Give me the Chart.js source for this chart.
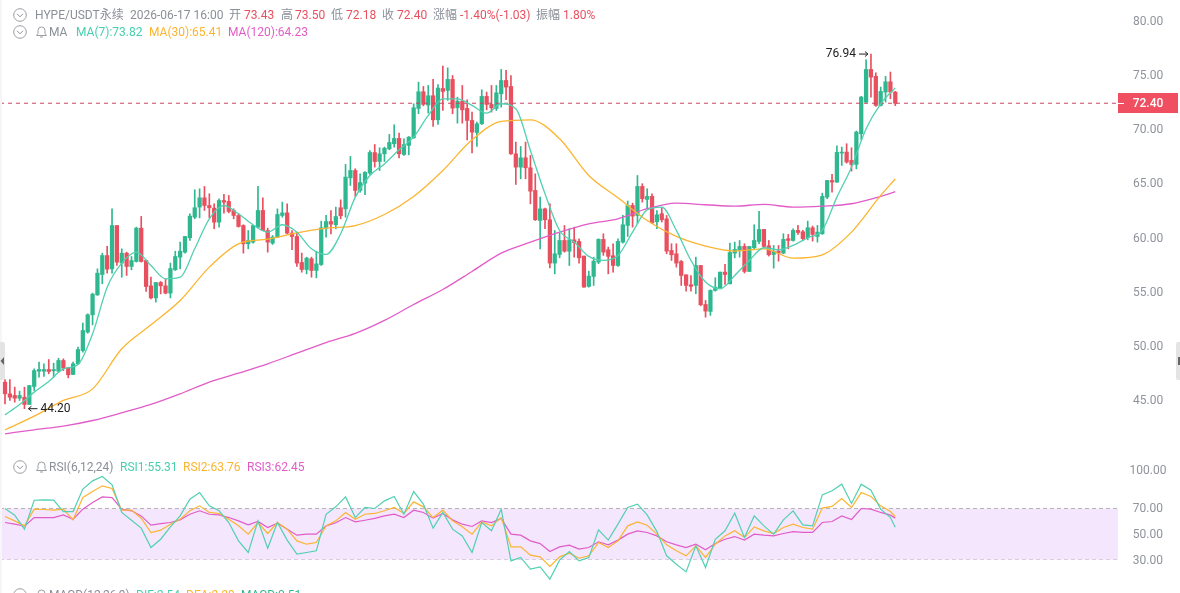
<!DOCTYPE html>
<html>
<head>
<meta charset="utf-8">
<title>HYPE/USDT</title>
<script src="https://cdn.jsdelivr.net/npm/chart.js@4"></script>
<style>
    html, body { margin: 0; padding: 0; background: #fff; }
    #page { position: relative; width: 1180px; height: 593px; overflow: hidden; font-family: Roboto, "Noto Sans CJK SC", sans-serif; font-size: 12px; }
    #page canvas { position: absolute; left: 0; }
    .row { position: absolute; height: 14px; line-height: 14px; white-space: nowrap; }
    .row span { position: absolute; top: 0; }
    .gray { color: #8b8f98; }
    .red { color: #e8505f; }
    .teal { color: #47cfae; }
    .orange { color: #fbb530; }
    .pink { color: #e25cc8; }
    .green { color: #2fb88f; }
    .icon { position: absolute; }
    .handle { position: absolute; top: 342px; width: 5px; height: 38px; background: #e4e4e4; }
    #edge { position: absolute; left: 0; top: 0; width: 2px; height: 593px; background: #f6f6f6; }
</style>
</head>
<body>
<div id="page">
    <canvas id="priceChart" width="1180" height="440" style="top:0"></canvas>
    <canvas id="rsiChart" width="1180" height="148" style="top:445px"></canvas>
    <div id="edge"></div>

    <svg class="icon" style="left:13px;top:8px" width="14" height="14"><circle cx="7" cy="7" r="6.3" fill="#fff" stroke="#9a9da3"/><path d="M4 5.8 L7 8.8 L10 5.8" fill="none" stroke="#8b8f98"/></svg>
    <svg class="icon" style="left:13px;top:25px" width="14" height="14"><circle cx="7" cy="7" r="6.3" fill="#fff" stroke="#9a9da3"/><path d="M4 5.8 L7 8.8 L10 5.8" fill="none" stroke="#8b8f98"/></svg>
    <svg class="icon" style="left:35px;top:25px" width="13" height="14"><path d="M1.5 10.5 H11.5 L10 8.5 V5.5 A3.5 3.5 0 0 0 3 5.5 V8.5 Z M5 12 H8" fill="none" stroke="#9a9da3"/></svg>
    <svg class="icon" style="left:13px;top:460px" width="14" height="14"><circle cx="7" cy="7" r="6.3" fill="#fff" stroke="#9a9da3"/><path d="M4 5.8 L7 8.8 L10 5.8" fill="none" stroke="#8b8f98"/></svg>
    <svg class="icon" style="left:35px;top:460px" width="13" height="14"><path d="M1.5 10.5 H11.5 L10 8.5 V5.5 A3.5 3.5 0 0 0 3 5.5 V8.5 Z M5 12 H8" fill="none" stroke="#9a9da3"/></svg>
    <svg class="icon" style="left:13px;top:588px" width="14" height="14"><circle cx="7" cy="7" r="6.3" fill="#fff" stroke="#9a9da3"/><path d="M4 5.8 L7 8.8 L10 5.8" fill="none" stroke="#8b8f98"/></svg>
    <svg class="icon" style="left:35px;top:588px" width="13" height="14"><path d="M1.5 10.5 H11.5 L10 8.5 V5.5 A3.5 3.5 0 0 0 3 5.5 V8.5 Z M5 12 H8" fill="none" stroke="#9a9da3"/></svg>

    <div class="row" style="top:8px;left:0;width:700px">
        <span class="gray" style="left:35px">HYPE/USDT永续</span>
        <span class="gray" style="left:130px">2026-06-17 16:00</span>
        <span class="gray" style="left:229px">开</span><span class="red" style="left:244px">73.43</span>
        <span class="gray" style="left:281px">高</span><span class="red" style="left:295px">73.50</span>
        <span class="gray" style="left:331px">低</span><span class="red" style="left:346px">72.18</span>
        <span class="gray" style="left:382px">收</span><span class="red" style="left:397px">72.40</span>
        <span class="gray" style="left:433px">涨幅</span><span class="red" style="left:460px">-1.40%(-1.03)</span>
        <span class="gray" style="left:536px">振幅</span><span class="red" style="left:563px">1.80%</span>
    </div>
    <div class="row" style="top:25px;left:0;width:400px">
        <span class="gray" style="left:49px">MA</span>
        <span class="teal" style="left:76px">MA(7):73.82</span>
        <span class="orange" style="left:149px">MA(30):65.41</span>
        <span class="pink" style="left:228px">MA(120):64.23</span>
    </div>
    <div class="row" style="top:460px;left:0;width:400px">
        <span class="gray" style="left:49px">RSI(6,12,24)</span>
        <span class="teal" style="left:120px">RSI1:55.31</span>
        <span class="orange" style="left:183px">RSI2:63.76</span>
        <span class="pink" style="left:247px">RSI3:62.45</span>
    </div>
    <div class="row" style="top:588px;left:0;width:400px">
        <span class="gray" style="left:49px">MACD(12,26,9)</span>
        <span class="teal" style="left:136px">DIF:2.54</span>
        <span class="orange" style="left:186px">DEA:2.28</span>
        <span class="green" style="left:241px">MACD:0.51</span>
    </div>

    <div class="handle" style="left:0;border-radius:0 2px 2px 0"></div>
    <svg class="icon" style="left:0;top:356px" width="5" height="10"><path d="M4 1 V9 L0.5 5 Z" fill="#666"/></svg>
    <div class="handle" style="left:1176px;width:4px;border-radius:2px 0 0 2px"></div>
    <svg class="icon" style="left:1176px;top:356px" width="4" height="10"><path d="M2 1 V9 L4 9 L4 1 Z" fill="#666"/></svg>
</div>

<script>
// 1h candles, oldest first
const opens = [46.65,45.57,45.42,45.17,45.26,44.59,46.25,47.66,47.66,47.82,47.70,47.66,48.65,47.97,47.36,48.34,49.57,51.27,52.87,54.71,56.59,58.34,57.11,61.11,57.64,58.56,57.33,57.79,60.87,57.88,55.54,54.43,55.85,55.54,54.87,57.02,58.19,58.65,59.98,61.88,62.81,63.67,62.96,62.72,61.42,63.42,63.33,62.50,62.04,61.11,59.42,59.58,60.96,62.50,60.65,59.48,60.04,62.04,62.28,60.41,60.10,57.70,57.05,58.04,56.96,57.51,60.87,61.48,61.18,62.75,62.65,65.51,66.19,64.35,65.02,65.95,67.85,67.02,67.73,68.19,68.66,69.15,67.67,68.50,69.21,71.92,73.46,72.23,73.09,70.87,73.76,73.58,74.60,71.98,72.59,71.92,70.81,69.70,70.50,73.03,72.29,71.92,73.27,74.50,73.95,67.73,66.50,67.36,66.44,64.35,61.58,62.65,61.64,57.64,58.44,59.73,58.74,59.79,59.64,58.29,55.49,56.41,57.73,59.83,58.87,58.32,57.42,59.58,61.12,62.96,62.04,64.72,63.52,63.80,61.46,62.20,61.73,58.81,58.50,57.79,56.56,55.64,55.58,57.42,53.82,53.18,55.12,55.36,56.81,55.73,58.56,58.81,59.18,56.87,59.06,59.64,60.75,59.24,58.44,58.75,58.56,59.89,59.73,60.66,60.53,59.98,60.90,60.10,60.35,63.73,65.27,65.12,67.80,67.89,67.12,66.75,69.58,72.51,75.52,74.88,72.20,73.43,74.38,73.43];
const highs = [46.89,46.89,46.19,45.82,46.19,46.34,47.88,48.50,48.34,48.74,48.40,48.86,48.80,48.03,48.50,49.88,52.10,52.96,54.87,57.11,58.56,59.18,62.65,61.11,58.96,58.65,58.25,60.96,61.95,57.94,56.34,55.85,55.94,56.19,57.64,58.74,59.58,60.10,62.19,64.41,64.50,64.72,64.04,63.12,63.58,63.98,63.88,62.65,62.19,61.18,60.65,61.11,64.72,63.67,60.87,60.19,62.65,63.27,63.11,60.65,60.50,58.56,58.19,58.19,58.74,61.51,62.04,62.50,62.81,63.48,66.75,67.49,66.35,65.88,66.10,68.04,68.59,68.29,68.35,69.52,70.41,69.64,69.12,69.33,72.35,74.35,73.95,74.04,74.60,74.13,75.83,75.67,74.96,72.96,74.04,72.72,71.58,70.66,73.64,73.43,74.04,74.04,75.52,75.43,74.96,68.81,68.41,68.81,67.58,65.88,63.73,62.71,63.11,60.65,60.41,61.11,60.81,60.96,59.88,58.29,56.90,58.19,59.89,60.35,59.12,59.43,59.89,62.04,63.37,63.18,65.73,64.97,64.50,64.04,62.50,62.75,62.04,59.43,59.43,57.89,56.56,56.50,58.19,57.42,54.19,55.18,56.29,56.81,57.52,59.49,59.58,59.73,59.43,59.18,61.18,62.41,60.75,59.73,59.27,59.27,60.35,60.29,60.81,61.12,60.66,61.52,61.06,61.12,64.10,65.27,65.83,68.47,68.35,68.66,68.29,69.83,73.03,76.41,76.94,75.21,73.89,74.88,75.28,73.50];
const lows = [44.65,44.96,44.80,44.96,44.20,44.59,45.88,47.11,47.17,47.42,47.11,47.57,47.72,47.05,47.33,48.28,49.42,51.17,51.94,54.65,55.73,56.71,56.71,57.42,56.34,56.50,57.02,57.73,57.73,55.02,54.34,54.04,54.80,54.80,54.43,56.96,57.11,58.56,59.73,61.73,61.82,62.50,61.82,60.81,60.96,62.25,62.28,61.73,60.96,58.56,58.96,59.48,60.90,60.65,58.65,59.36,59.98,61.88,60.34,58.87,57.33,56.80,56.65,56.34,56.28,57.42,60.04,60.34,60.81,61.73,61.88,64.81,63.79,64.19,63.95,65.82,66.50,66.19,67.02,68.10,68.35,67.36,67.58,67.64,69.15,71.43,72.16,71.49,70.26,70.44,71.73,72.66,71.43,70.56,70.56,69.02,67.82,68.41,70.44,71.79,71.58,71.73,72.04,72.72,67.67,64.90,65.42,65.42,63.11,61.58,58.96,60.81,57.20,56.65,58.13,58.65,57.42,58.19,57.64,55.42,55.42,55.58,57.58,58.35,56.65,56.81,57.33,59.49,60.10,60.96,61.27,63.27,62.66,61.27,60.81,61.43,58.50,57.89,57.27,55.58,55.05,55.05,54.81,53.70,52.65,52.81,55.05,55.36,55.67,55.73,58.13,58.19,56.72,56.87,58.96,59.43,59.06,58.29,57.18,57.82,58.50,58.96,59.67,60.29,59.73,59.79,59.67,59.58,60.29,63.58,64.20,65.09,66.66,66.87,66.13,66.35,69.03,72.41,72.97,72.11,72.14,72.51,72.81,72.18];
const closes = [45.57,45.26,45.17,45.42,44.59,46.34,47.72,47.82,47.82,47.63,47.82,48.65,47.94,47.33,48.34,49.66,51.42,52.87,54.77,56.71,58.34,57.08,61.11,57.73,58.56,57.33,57.88,60.87,57.79,55.48,54.43,55.85,55.54,54.87,57.14,58.25,58.74,60.10,61.98,62.75,63.67,62.96,62.75,61.42,63.42,63.27,62.41,62.04,61.02,59.42,59.73,61.11,62.50,60.65,59.58,60.04,62.13,62.28,60.41,60.10,57.64,57.05,58.10,56.96,57.57,60.90,61.48,61.24,61.94,62.01,65.58,66.19,64.35,65.08,66.01,67.85,67.02,67.73,68.25,68.78,69.15,67.73,68.59,69.27,71.98,73.46,72.29,73.09,70.87,73.80,73.49,74.60,71.95,72.59,71.79,70.81,69.73,70.50,73.03,72.29,71.98,73.36,74.50,73.89,67.73,66.50,67.36,66.44,64.28,61.64,62.65,61.64,57.64,58.50,59.73,58.74,59.79,59.54,58.13,55.42,56.44,57.82,59.83,58.66,58.26,57.42,59.64,61.18,62.96,61.98,64.72,63.58,63.80,61.36,62.10,61.64,58.75,58.41,57.64,56.50,55.58,55.49,57.42,53.79,53.21,55.12,55.42,56.81,56.59,58.62,58.90,59.18,56.87,59.18,59.73,60.75,59.18,58.41,58.72,58.56,59.83,59.73,60.66,60.47,59.89,60.90,60.29,60.50,63.80,65.27,65.12,67.86,67.89,66.97,66.75,69.74,72.97,75.52,74.81,72.20,73.49,74.38,73.43,72.40];

// moving averages, one reading every 3 candles (MA7) or 6 candles (MA30, MA120), last one at the final candle
const ma7 = [43.63,44.59,45.73,46.71,47.88,48.28,51.11,55.42,57.64,58.65,57.42,56.19,56.34,58.96,61.73,62.96,62.19,61.18,60.50,61.18,60.50,58.96,58.44,60.35,63.73,65.73,66.80,68.10,69.27,71.27,72.81,72.81,72.20,71.49,72.35,71.89,68.04,64.04,60.65,59.58,58.26,57.89,58.35,60.50,62.56,62.81,60.66,57.89,55.89,55.27,56.50,57.89,59.06,58.87,59.27,59.98,60.66,63.73,66.50,70.04,72.35,73.82];
const ma30 = [42.25,43.51,44.96,46.03,49.73,51.94,54.19,57.27,59.42,59.85,60.44,60.87,61.11,62.13,63.79,66.19,69.02,70.72,70.87,69.12,65.73,63.67,61.58,60.10,59.21,58.75,58.96,58.10,58.41,60.50,63.89,65.41];
const ma120 = [41.88,42.25,42.59,43.11,43.82,44.59,45.57,46.65,47.48,48.34,49.33,50.31,51.15,52.35,53.82,55.20,56.87,58.56,59.57,60.50,61.27,61.73,62.66,63.18,63.03,62.90,63.06,62.81,62.90,63.12,63.80,64.23];

// RSI readings every 2 candles, last one at the final candle
const rsi1 = [70.0,64.8,53.8,76.5,76.8,76.5,67.6,67.6,85.2,91.7,95.1,88.6,66.9,60.8,54.6,39.4,45.9,55.6,64.2,77.3,82.5,72.1,68.2,59.0,44.6,35.5,60.3,38.9,59.0,45.2,34.2,35.5,36.8,65.5,71.3,79.1,62.9,70.8,70.0,76.0,79.4,65.5,83.3,73.4,54.6,66.9,53.8,48.5,35.5,59.0,52.5,69.5,28.9,31.6,22.4,24.2,14.6,29.5,36.3,28.9,31.6,53.3,45.2,57.7,70.8,73.4,65.0,51.9,32.9,26.3,20.3,40.7,23.7,45.9,52.5,66.3,47.2,64.2,56.4,49.9,61.1,68.2,57.2,56.4,80.7,83.9,89.1,73.9,89.1,84.4,69.5,62.9,55.31];
const rsi2 = [63.7,60.3,56.4,69.5,69.2,68.7,69.5,61.1,78.6,83.3,87.8,85.7,68.7,68.7,62.4,51.2,53.0,57.7,61.6,68.2,72.1,66.9,66.1,61.6,56.4,49.9,59.0,50.4,59.0,53.8,44.6,42.0,43.3,56.4,60.3,66.9,61.6,65.5,66.1,68.2,70.8,66.1,75.2,71.3,62.9,68.7,60.3,55.6,49.9,59.5,56.4,62.9,39.9,39.9,33.4,32.1,24.5,32.1,34.9,31.0,32.9,43.3,39.4,44.6,56.4,59.5,56.9,49.9,41.5,36.8,32.9,40.7,31.6,42.0,48.5,52.5,47.2,55.6,52.5,50.4,55.1,57.7,55.1,53.8,70.3,71.6,77.8,70.8,82.5,79.4,72.1,67.6,63.76];
const rsi3 = [59.0,57.7,56.1,62.9,62.9,62.9,65.0,61.6,69.5,74.7,79.1,78.6,69.5,68.2,64.2,56.9,58.2,59.0,61.1,65.5,68.2,65.5,65.0,62.9,60.3,57.2,59.8,55.1,58.5,53.8,49.1,49.9,49.9,56.4,58.8,62.9,59.5,60.8,62.2,64.2,65.5,62.9,68.7,66.9,62.4,66.1,61.1,57.7,55.9,60.3,59.0,62.2,49.9,49.1,44.6,42.5,36.3,39.9,41.2,38.1,39.4,43.9,41.5,45.2,49.9,52.5,51.2,48.5,43.9,41.5,39.4,42.0,37.6,42.5,45.9,48.0,45.2,49.9,49.1,48.5,50.4,51.9,51.2,51.2,59.0,59.8,64.2,61.4,70.0,69.5,66.9,64.8,62.45];

const priceTicks = [45, 50, 55, 60, 65, 70, 75, 80];
const rsiTicks = [30, 50, 70, 100];
const rsiBand = [30, 70];
const lastPrice = 72.40;

const COLORS = {
    up: '#2fb88f',
    down: '#e8505f',
    ma7: '#52d0b2',
    ma30: '#fbb530',
    ma120: '#e25cc8',
    axis: '#8f939b',
    band: '#f3e6fd',
    bandLine: '#b8b4bc',
    lastLine: '#c84565'
};

const last = opens.length - 1;
const xMin = -1.028;
const xMax = 228.78;
const highIndex = highs.indexOf(Math.max(...highs));
const lowIndex = lows.indexOf(Math.min(...lows));
const candleColors = closes.map((c, i) => c >= opens[i] ? COLORS.up : COLORS.down);

// the readings sit on every n-th candle, the final one on the last candle
const sampled = (values, step) => values.map((v, k) => ({x: Math.min(k * step, last), y: v}));

function lineSet(values, step, color, smooth) {
    return {
        type: 'line',
        data: sampled(values, step),
        borderColor: color,
        borderWidth: smooth ? 1.3 : 1.2,
        cubicInterpolationMode: smooth ? 'monotone' : 'default',
        pointRadius: 0,
        order: 0
    };
}

function yScale(ticks, min, max, padding) {
    return {
        position: 'right',
        min: min,
        max: max,
        grid: {display: false, drawTicks: false},
        border: {display: false},
        afterBuildTicks: axis => { axis.ticks = ticks.map(v => ({value: v})); },
        afterFit: axis => {
            axis.width = 62;
            // labels never touch the canvas edge, keep the plot at full height
            axis.paddingTop = 0;
            axis.paddingBottom = 0;
        },
        ticks: {
            color: COLORS.axis,
            font: {family: 'Roboto', size: 12},
            padding: padding,
            labelOffset: 1,
            crossAlign: 'center',
            callback: v => v.toFixed(2)
        }
    };
}

const xScale = {type: 'linear', display: false, min: xMin, max: xMax, offset: false};

function arrow(ctx, fromX, toX, y) {
    const dir = toX > fromX ? -1 : 1;
    ctx.beginPath();
    ctx.moveTo(fromX, y);
    ctx.lineTo(toX, y);
    ctx.moveTo(toX + dir * 3, y - 2.5);
    ctx.lineTo(toX, y);
    ctx.lineTo(toX + dir * 3, y + 2.5);
    ctx.stroke();
}

// high / low markers and the last price tag on top of the candles
const priceMarks = {
    id: 'priceMarks',
    afterDatasetsDraw(chart) {
        const {ctx, scales} = chart;
        ctx.save();
        ctx.font = '12px Roboto';
        ctx.textBaseline = 'middle';
        ctx.fillStyle = '#222';
        ctx.strokeStyle = '#222';
        ctx.lineWidth = 1;

        const hx = scales.x.getPixelForValue(highIndex);
        const hy = scales.y.getPixelForValue(highs[highIndex]);
        arrow(ctx, hx - 12, hx - 3, hy);
        ctx.textAlign = 'right';
        ctx.fillText(highs[highIndex].toFixed(2), hx - 15, hy);

        const lx = scales.x.getPixelForValue(lowIndex);
        const ly = scales.y.getPixelForValue(lows[lowIndex]);
        arrow(ctx, lx + 13, lx + 4, ly);
        ctx.textAlign = 'left';
        ctx.fillText(lows[lowIndex].toFixed(2), lx + 16, ly);

        const py = Math.round(scales.y.getPixelForValue(lastPrice));
        ctx.fillStyle = '#ef4f60';
        ctx.fillRect(1118, py - 10, 60, 20);
        ctx.strokeStyle = '#fff';
        ctx.beginPath();
        ctx.moveTo(1118, py + 0.5);
        ctx.lineTo(1124, py + 0.5);
        ctx.stroke();
        ctx.fillStyle = '#fff';
        ctx.font = '500 12px Roboto';
        ctx.textAlign = 'center';
        ctx.fillText(lastPrice.toFixed(2), 1148, py + 0.5);
        ctx.restore();
    }
};

new Chart(document.getElementById('priceChart'), {
    type: 'bar',
    data: {
        datasets: [
            lineSet(ma7, 3, COLORS.ma7, true),
            lineSet(ma30, 6, COLORS.ma30, true),
            lineSet(ma120, 6, COLORS.ma120, true),
            {
                type: 'line',
                data: [{x: xMin, y: lastPrice}, {x: xMax, y: lastPrice}],
                borderColor: COLORS.lastLine,
                borderWidth: 1,
                borderDash: [4, 4],
                pointRadius: 0,
                order: 0
            },
            {
                data: opens.map((o, i) => ({x: i, y: [o, closes[i]]})),
                backgroundColor: candleColors,
                barThickness: 3.6,
                grouped: false,
                order: 1
            },
            {
                data: lows.map((l, i) => ({x: i, y: [l, highs[i]]})),
                backgroundColor: candleColors,
                barThickness: 1,
                grouped: false,
                order: 2
            }
        ]
    },
    options: {
        responsive: false,
        animation: false,
        layout: {padding: 0},
        plugins: {legend: {display: false}, tooltip: {enabled: false}},
        scales: {
            x: xScale,
            y: yScale(priceTicks, 41.31, 81.93, 15)
        }
    },
    plugins: [priceMarks]
});

new Chart(document.getElementById('rsiChart'), {
    type: 'line',
    data: {
        datasets: [
            lineSet(rsi1, 2, COLORS.ma7, false),
            lineSet(rsi2, 2, COLORS.ma30, false),
            lineSet(rsi3, 2, COLORS.ma120, false),
            {
                data: [{x: xMin, y: rsiBand[1]}, {x: xMax, y: rsiBand[1]}],
                borderColor: COLORS.bandLine,
                borderWidth: 1,
                borderDash: [4, 3],
                backgroundColor: COLORS.band,
                fill: '+1',
                pointRadius: 0,
                order: 5
            },
            {
                data: [{x: xMin, y: rsiBand[0]}, {x: xMax, y: rsiBand[0]}],
                borderColor: COLORS.bandLine,
                borderWidth: 1,
                borderDash: [4, 3],
                pointRadius: 0,
                order: 5
            }
        ]
    },
    options: {
        responsive: false,
        animation: false,
        layout: {padding: 0},
        plugins: {legend: {display: false}, tooltip: {enabled: false}},
        scales: {
            x: xScale,
            y: yScale(rsiTicks, 3.73, 119.8, 11.5)
        }
    }
});
</script>
</body>
</html>
